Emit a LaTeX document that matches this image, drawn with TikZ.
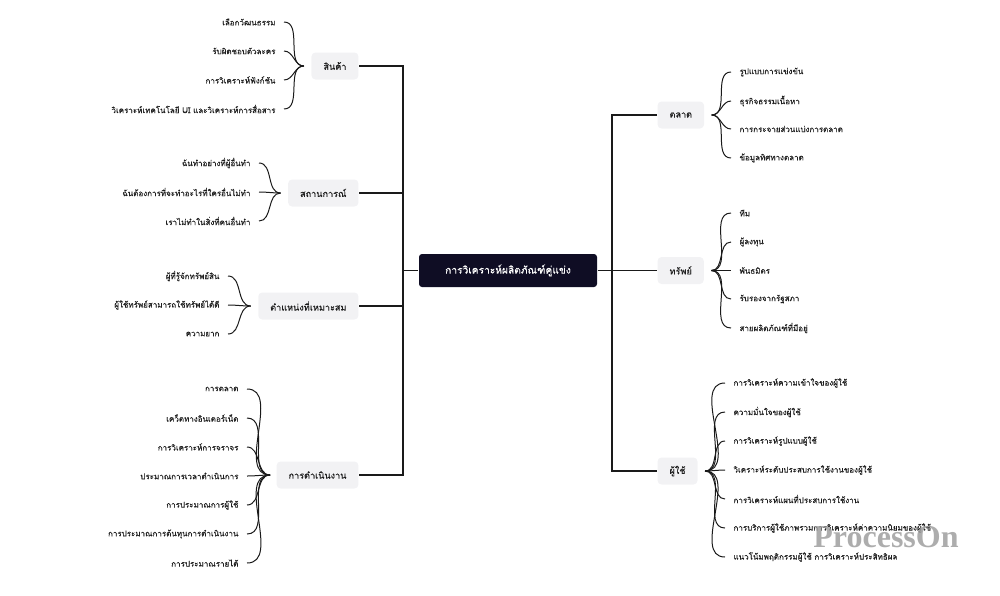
\documentclass[tikz,border=0pt]{standalone}
\usepackage{fontspec}
\newfontfamily\thaifont[Script=Thai, FakeBold=0.4]{Loma}
\newfontfamily\markfont{Liberation Serif}
\definecolor{rootfill}{HTML}{0F0D24}
\definecolor{subfill}{HTML}{F2F2F4}
\definecolor{linec}{HTML}{1A1A1A}
\definecolor{leaftext}{HTML}{1E1E1E}
\begin{document}
\begin{tikzpicture}[x=1pt, y=-1pt, line width=1.1pt, draw=linec,
  root/.style = {fill=rootfill, rounded corners=3pt, minimum width=178pt, minimum height=33pt, text=white, font=\thaifont\fontsize{10.2}{12}\selectfont},
  sub/.style = {fill=subfill, rounded corners=4pt, minimum height=27pt, inner xsep=12pt, text=leaftext, font=\thaifont\fontsize{9.1}{11}\selectfont},
  leaf/.style = {inner xsep=8pt, inner ysep=2pt, text=leaftext, font=\thaifont\fontsize{8}{10}\selectfont},
  link/.style = {linec, line width=1.2pt},
  curve/.style = {linec, line width=1pt}]
  \useasboundingbox (0,0) rectangle (1000,595);
  % root
  \node[root] (root) at (508,270.5) {การวิเคราะห์ผลิตภัณฑ์คู่แข่ง};
  \coordinate (jl) at (403,270.5);
  \coordinate (jr) at (612,270.5);
  % left branches
  \node[sub, anchor=east] (prod) at (359,66) {สินค้า};
  \node[sub, anchor=east] (sit) at (359,193) {สถานการณ์};
  \node[sub, anchor=east] (pos) at (359,306) {ตำแหน่งที่เหมาะสม};
  \node[sub, anchor=east] (ops) at (359,475) {การดำเนินงาน};
  % right branches
  \node[sub, anchor=west] (mkt) at (657,115) {ตลาด};
  \node[sub, anchor=west] (asset) at (657,270.5) {ทรัพย์};
  \node[sub, anchor=west] (user) at (657,471) {ผู้ใช้};
  % trunk
  \draw[link] (prod.east) -| (jl);
  \draw[link] (sit.east) -| (jl);
  \draw[link] (pos.east) -| (jl);
  \draw[link] (ops.east) -| (jl);
  \draw[link] (jl) -- (root.west);
  \draw[link] (mkt.west) -| (jr);
  \draw[link] (asset.west) -| (jr);
  \draw[link] (user.west) -| (jr);
  \draw[link] (root.east) -- (jr);
  % hubs
  \coordinate (prodh) at ([xshift=-7pt]prod.west);
  \coordinate (sith) at ([xshift=-7pt]sit.west);
  \coordinate (posh) at ([xshift=-7pt]pos.west);
  \coordinate (opsh) at ([xshift=-6pt]ops.west);
  \coordinate (mkth) at ([xshift=7pt]mkt.east);
  \coordinate (asseth) at ([xshift=7pt]asset.east);
  \coordinate (userh) at ([xshift=7pt]user.east);
  % สินค้า
  \node[leaf, anchor=east] (prod1) at (284,22) {เลือกวัฒนธรรม};
  \node[leaf, anchor=east] (prod2) at (284,51) {รับผิดชอบตัวละคร};
  \node[leaf, anchor=east] (prod3) at (284,80) {การวิเคราะห์ฟังก์ชัน};
  \node[leaf, anchor=east] (prod4) at (284,109) {วิเคราะห์เทคโนโลยี UI และวิเคราะห์การสื่อสาร};
  \draw[curve] (prodh) to [out=180, in=0] (prod1.east);
  \draw[curve] (prodh) to [out=180, in=0] (prod2.east);
  \draw[curve] (prodh) to [out=180, in=0] (prod3.east);
  \draw[curve] (prodh) to [out=180, in=0] (prod4.east);
  % สถานการณ์
  \node[leaf, anchor=east] (sit1) at (259,163) {ฉันทำอย่างที่ผู้อื่นทำ};
  \node[leaf, anchor=east] (sit2) at (259,192) {ฉันต้องการที่จะทำอะไรที่ใครอื่นไม่ทำ};
  \node[leaf, anchor=east] (sit3) at (259,221) {เราไม่ทำในสิ่งที่คนอื่นทำ};
  \draw[curve] (sith) to [out=180, in=0] (sit1.east);
  \draw[curve] (sith) to [out=180, in=0] (sit2.east);
  \draw[curve] (sith) to [out=180, in=0] (sit3.east);
  % ตำแหน่งที่เหมาะสม
  \node[leaf, anchor=east] (pos1) at (228,276) {ผู้ที่รู้จักทรัพย์สิน};
  \node[leaf, anchor=east] (pos2) at (228,305) {ผู้ใช้ทรัพย์สามารถใช้ทรัพย์ได้ดี};
  \node[leaf, anchor=east] (pos3) at (228,334) {ความยาก};
  \draw[curve] (posh) to [out=180, in=0] (pos1.east);
  \draw[curve] (posh) to [out=180, in=0] (pos2.east);
  \draw[curve] (posh) to [out=180, in=0] (pos3.east);
  % การดำเนินงาน
  \node[leaf, anchor=east] (ops1) at (247,389) {การตลาด};
  \node[leaf, anchor=east] (ops2) at (247,418) {เคว็ตทางอินเตอร์เน็ต};
  \node[leaf, anchor=east] (ops3) at (247,447) {การวิเคราะห์การจราจร};
  \node[leaf, anchor=east] (ops4) at (247,476) {ประมาณการเวลาดำเนินการ};
  \node[leaf, anchor=east] (ops5) at (247,505) {การประมาณการผู้ใช้};
  \node[leaf, anchor=east] (ops6) at (247,534) {การประมาณการต้นทุนการดำเนินงาน};
  \node[leaf, anchor=east] (ops7) at (247,563) {การประมาณรายได้};
  \draw[curve] (opsh) to [out=180, in=0] (ops1.east);
  \draw[curve] (opsh) to [out=180, in=0] (ops2.east);
  \draw[curve] (opsh) to [out=180, in=0] (ops3.east);
  \draw[curve] (opsh) to [out=180, in=0] (ops4.east);
  \draw[curve] (opsh) to [out=180, in=0] (ops5.east);
  \draw[curve] (opsh) to [out=180, in=0] (ops6.east);
  \draw[curve] (opsh) to [out=180, in=0] (ops7.east);
  % ตลาด
  \node[leaf, anchor=west] (mkt1) at (731,72) {รูปแบบการแข่งขัน};
  \node[leaf, anchor=west] (mkt2) at (731,101) {ธุรกิจธรรมเนื้อหา};
  \node[leaf, anchor=west] (mkt3) at (731,129) {การกระจายส่วนแบ่งการตลาด};
  \node[leaf, anchor=west] (mkt4) at (731,158) {ข้อมูลทิศทางตลาด};
  \draw[curve] (mkth) to [out=0, in=180] (mkt1.west);
  \draw[curve] (mkth) to [out=0, in=180] (mkt2.west);
  \draw[curve] (mkth) to [out=0, in=180] (mkt3.west);
  \draw[curve] (mkth) to [out=0, in=180] (mkt4.west);
  % ทรัพย์
  \node[leaf, anchor=west] (asset1) at (731,213) {ทีม};
  \node[leaf, anchor=west] (asset2) at (731,242) {ผู้ลงทุน};
  \node[leaf, anchor=west] (asset3) at (731,270.5) {พันธมิตร};
  \node[leaf, anchor=west] (asset4) at (731,299) {รับรองจากรัฐสภา};
  \node[leaf, anchor=west] (asset5) at (731,328) {สายผลิตภัณฑ์ที่มีอยู่};
  \draw[curve] (asseth) to [out=0, in=180] (asset1.west);
  \draw[curve] (asseth) to [out=0, in=180] (asset2.west);
  \draw[curve] (asseth) to [out=0, in=180] (asset3.west);
  \draw[curve] (asseth) to [out=0, in=180] (asset4.west);
  \draw[curve] (asseth) to [out=0, in=180] (asset5.west);
  % ผู้ใช้
  \node[leaf, anchor=west] (user1) at (725,383) {การวิเคราะห์ความเข้าใจของผู้ใช้};
  \node[leaf, anchor=west] (user2) at (725,412) {ความมั่นใจของผู้ใช้};
  \node[leaf, anchor=west] (user3) at (725,441) {การวิเคราะห์รูปแบบผู้ใช้};
  \node[leaf, anchor=west] (user4) at (725,470) {วิเคราะห์ระดับประสบการใช้งานของผู้ใช้};
  \node[leaf, anchor=west] (user5) at (725,499) {การวิเคราะห์แผนที่ประสบการใช้งาน};
  \node[leaf, anchor=west] (user6) at (725,528) {การบริการผู้ใช้ภาพรวมการวิเคราะห์ค่าความนิยมของผู้ใช้};
  \node[leaf, anchor=west] (user7) at (725,557) {แนวโน้มพฤติกรรมผู้ใช้ การวิเคราะห์ประสิทธิผล};
  \draw[curve] (userh) to [out=0, in=180] (user1.west);
  \draw[curve] (userh) to [out=0, in=180] (user2.west);
  \draw[curve] (userh) to [out=0, in=180] (user3.west);
  \draw[curve] (userh) to [out=0, in=180] (user4.west);
  \draw[curve] (userh) to [out=0, in=180] (user5.west);
  \draw[curve] (userh) to [out=0, in=180] (user6.west);
  \draw[curve] (userh) to [out=0, in=180] (user7.west);
  % watermark
  \node[text=gray!75, opacity=0.85, font=\markfont\bfseries\fontsize{32}{34}\selectfont] (mark) at (886,537) {ProcessOn};
\end{tikzpicture}
\end{document}
